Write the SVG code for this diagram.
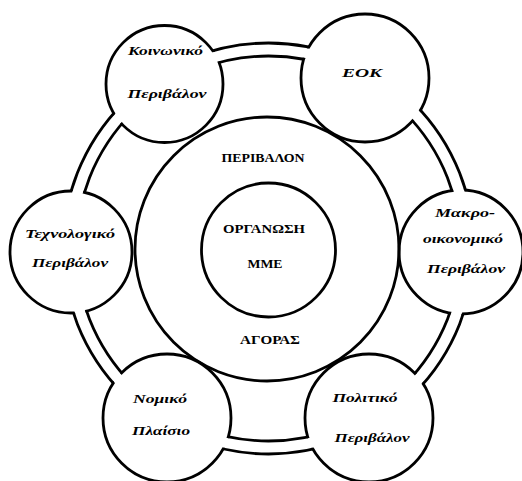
<svg xmlns="http://www.w3.org/2000/svg" width="522" height="481" viewBox="0 0 522 481">
<style>
.ln{fill:none;stroke:#000;stroke-width:2.8}
.lbl{font-family:"Liberation Serif","DejaVu Serif",serif;font-style:italic;font-weight:bold;font-size:13px;text-anchor:middle;fill:#000}
.cap{font-family:"Liberation Serif","DejaVu Serif",serif;font-weight:bold;font-size:11.5px;text-anchor:middle;fill:#000}
</style>
<defs>
<mask id="nodeHoles" maskUnits="userSpaceOnUse" x="0" y="0" width="522" height="481">
<rect x="0" y="0" width="522" height="481" fill="#fff"/>
<circle cx="164.5" cy="84" r="58.5" fill="#000"/>
<circle cx="365" cy="78" r="64" fill="#000"/>
<circle cx="71" cy="252" r="61" fill="#000"/>
<circle cx="461" cy="252" r="62" fill="#000"/>
<circle cx="167" cy="418" r="64" fill="#000"/>
<circle cx="369" cy="418" r="64" fill="#000"/>
</mask>
<mask id="bandHole" maskUnits="userSpaceOnUse" x="0" y="0" width="522" height="481">
<rect x="0" y="0" width="522" height="481" fill="#fff"/>
<circle cx="268.5" cy="248.5" r="199" fill="none" stroke="#000" stroke-width="10.2"/>
</mask>
</defs>
<g id="connectors">
<circle class="ln" cx="268.5" cy="248.5" r="205.5" mask="url(#nodeHoles)"/>
<circle class="ln" cx="268.5" cy="248.5" r="192.5" mask="url(#nodeHoles)"/>
</g>
<g id="node-koinoniko">
<circle class="ln" cx="164.5" cy="84" r="58.5" mask="url(#bandHole)"/>
<text class="lbl" x="165.5" y="55" textLength="75" lengthAdjust="spacingAndGlyphs">Κοινωνικό</text>
<text class="lbl" x="167" y="98" textLength="79" lengthAdjust="spacingAndGlyphs">Περιβάλον</text>
</g>
<g id="node-eok">
<circle class="ln" cx="365" cy="78" r="64" mask="url(#bandHole)"/>
<text class="lbl" x="362" y="77" textLength="40" lengthAdjust="spacingAndGlyphs">ΕΟΚ</text>
</g>
<g id="node-tech">
<circle class="ln" cx="71" cy="252" r="61" mask="url(#bandHole)"/>
<text class="lbl" x="70" y="238" textLength="90" lengthAdjust="spacingAndGlyphs">Τεχνολογικό</text>
<text class="lbl" x="70" y="267" textLength="76" lengthAdjust="spacingAndGlyphs">Περιβάλον</text>
</g>
<g id="node-macro">
<circle class="ln" cx="461" cy="252" r="62" mask="url(#bandHole)"/>
<text class="lbl" x="465" y="217" textLength="60" lengthAdjust="spacingAndGlyphs">Μακρο-</text>
<text class="lbl" x="463" y="243" textLength="80" lengthAdjust="spacingAndGlyphs">οικονομικό</text>
<text class="lbl" x="466" y="273" textLength="78" lengthAdjust="spacingAndGlyphs">Περιβάλον</text>
</g>
<g id="node-nomiko">
<circle class="ln" cx="167" cy="418" r="64" mask="url(#bandHole)"/>
<text class="lbl" x="160" y="403" textLength="54" lengthAdjust="spacingAndGlyphs">Νομικό</text>
<text class="lbl" x="161" y="435" textLength="58" lengthAdjust="spacingAndGlyphs">Πλαίσιο</text>
</g>
<g id="node-politiko">
<circle class="ln" cx="369" cy="418" r="64" mask="url(#bandHole)"/>
<text class="lbl" x="365" y="402" textLength="65" lengthAdjust="spacingAndGlyphs">Πολιτικό</text>
<text class="lbl" x="372" y="442" textLength="75" lengthAdjust="spacingAndGlyphs">Περιβάλον</text>
</g>
<g id="node-market">
<circle class="ln" cx="267" cy="249" r="132"/>
<text class="cap" x="263" y="162" textLength="83" lengthAdjust="spacingAndGlyphs">ΠΕΡΙΒΑΛΟΝ</text>
<text class="cap" x="270" y="344" textLength="60" lengthAdjust="spacingAndGlyphs">ΑΓΟΡΑΣ</text>
</g>
<g id="node-org">
<circle class="ln" cx="268.5" cy="250" r="67"/>
<text class="cap" x="264" y="233" textLength="82" lengthAdjust="spacingAndGlyphs">ΟΡΓΑΝΩΣΗ</text>
<text class="cap" x="265" y="268" textLength="35" lengthAdjust="spacingAndGlyphs">ΜΜΕ</text>
</g>
</svg>
